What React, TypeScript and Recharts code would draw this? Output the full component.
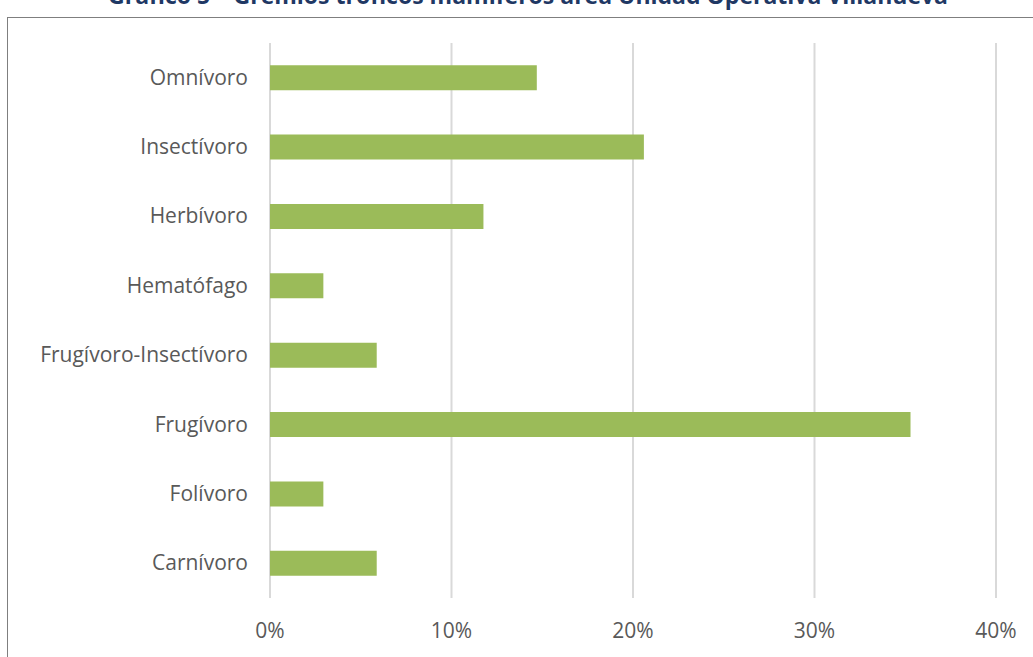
import React from "react";
import { BarChart, Bar, XAxis, YAxis, CartesianGrid } from "recharts";

const categories = [
  "Omnívoro",
  "Insectívoro",
  "Herbívoro",
  "Hematófago",
  "Frugívoro-Insectívoro",
  "Frugívoro",
  "Folívoro",
  "Carnívoro",
];
const values = [14.7, 20.6, 11.76, 2.94, 5.88, 35.29, 2.94, 5.88];
const xTicks = [0, 10, 20, 30, 40];
const titleText = "Gráfico 5 – Gremios tróficos mamíferos área Unidad Operativa Villanueva";

const data = categories.map((c, i) => ({ name: c, value: values[i] }));

const FONT = "'Open Sans', 'Noto Sans', sans-serif";

const YTick = (props: any) => {
  const { x, y, payload } = props;
  return (
    <text x={x} y={y} dx={7} dy={7} textAnchor="end" fill="#595959" fontSize={21} fontFamily={FONT}>
      {payload.value}
    </text>
  );
};

const XTick = (props: any) => {
  const { x, y, payload } = props;
  return (
    <text x={x} y={y} dy={32} textAnchor="middle" fill="#595959" fontSize={21} fontFamily={FONT}>
      {payload.value + "%"}
    </text>
  );
};

export default function App() {
  return (
    <div style={{ position: "absolute", left: 0, top: 0, width: 1033, height: 657, overflow: "hidden", background: "#fff" }}>
      <div
        style={{
          position: "absolute",
          left: 7,
          top: 17,
          width: 1040,
          height: 700,
          border: "1px solid #7f7f7f",
          boxSizing: "border-box",
        }}
      />
      <BarChart
        width={1033}
        height={657}
        data={data}
        layout="vertical"
        margin={{ top: 43, right: 37, bottom: 19, left: 0 }}
        barCategoryGap="32%"
        style={{ position: "absolute", left: 0, top: 0 }}
      >
        <CartesianGrid horizontal={false} stroke="#d9d9d9" strokeWidth={2} />
        <XAxis
          type="number"
          domain={[0, 40]}
          ticks={xTicks}
          axisLine={false}
          tickLine={false}
          height={40}
          tick={<XTick />}
          interval={0}
        />
        <YAxis
          type="category"
          dataKey="name"
          width={270}
          axisLine={false}
          tickLine={false}
          tick={<YTick />}
          tickMargin={23}
          interval={0}
        />
        <Bar dataKey="value" fill="#9bbb59" isAnimationActive={false} />
      </BarChart>
      <svg width={1033} height={657} style={{ position: "absolute", left: 0, top: 0, pointerEvents: "none" }}>
        <text x={528} y={4} textAnchor="middle" fill="#1f3864" fontSize={23} fontWeight="bold" fontFamily={FONT}>
          {titleText}
        </text>
      </svg>
    </div>
  );
}
